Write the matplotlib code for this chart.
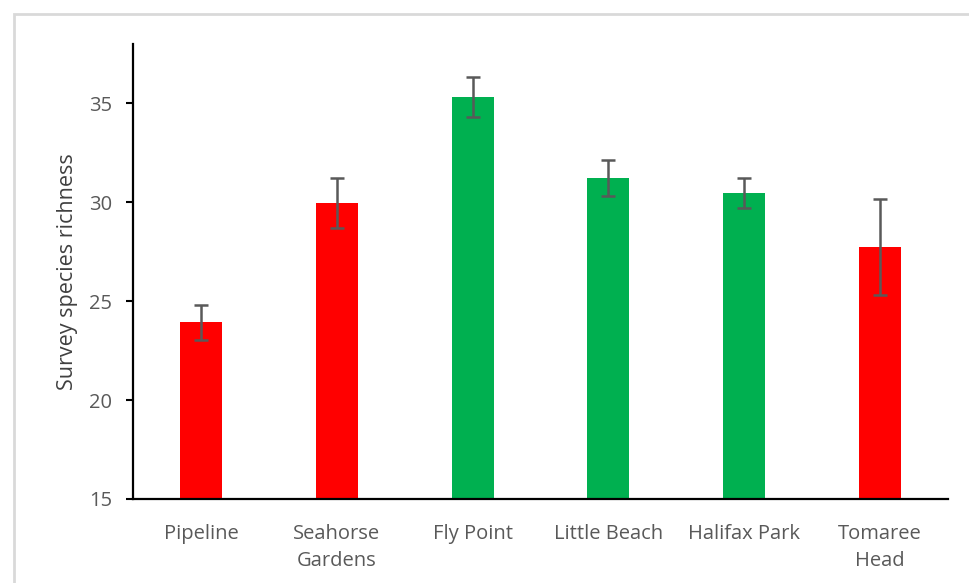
import matplotlib
matplotlib.use('Agg')
import matplotlib.pyplot as plt
from matplotlib.patches import Rectangle

sites = ['Pipeline', 'Seahorse\nGardens', 'Fly Point', 'Little Beach', 'Halifax Park', 'Tomaree\nHead']
richness = [23.93, 29.96, 35.32, 31.23, 30.47, 27.76]
err = [0.90, 1.28, 1.03, 0.90, 0.76, 2.43]
bar_colors = ['#FF0000', '#FF0000', '#00B050', '#00B050', '#00B050', '#FF0000']

text_grey = '#595959'
plt.rcParams['font.family'] = ['Open Sans', 'DejaVu Sans']

fig = plt.figure(figsize=(9.7, 5.83), dpi=100)
fig.patch.set_facecolor('white')

# light grey frame around the chart area
fig.patches.append(Rectangle((14 / 970, -0.1), 1.2, 1.1 - 15 / 583 + 0.001,
                             transform=fig.transFigure, fill=False,
                             edgecolor='#d9d9d9', linewidth=2))

ax = fig.add_axes([0.1371, 0.1441, 0.8402, 0.7804])
x = range(len(sites))
ax.bar(x, richness, width=0.31, color=bar_colors, bottom=0)
ax.errorbar(x, richness, yerr=err, fmt='none', ecolor='#595959',
            elinewidth=1.8, capsize=4.8, capthick=1.8)

ax.set_xlim(-0.5, len(sites) - 0.5)
ax.set_ylim(15, 38)
ax.set_yticks([15, 20, 25, 30, 35])
ax.set_xticks(list(x))
ax.set_xticklabels(sites, fontsize=14.5, color=text_grey, linespacing=1.45)
ax.tick_params(axis='y', labelsize=14.5, labelcolor=text_grey, length=5, width=1.5, pad=10)
ax.tick_params(axis='x', length=0, pad=18)
ax.set_ylabel('Survey species richness', fontsize=15.5, color='#404040', labelpad=8)

for side in ['top', 'right']:
    ax.spines[side].set_visible(False)
for side in ['left', 'bottom']:
    ax.spines[side].set_linewidth(1.6)
    ax.spines[side].set_color('black')

plt.savefig('out.png', dpi=100)
plt.close()
